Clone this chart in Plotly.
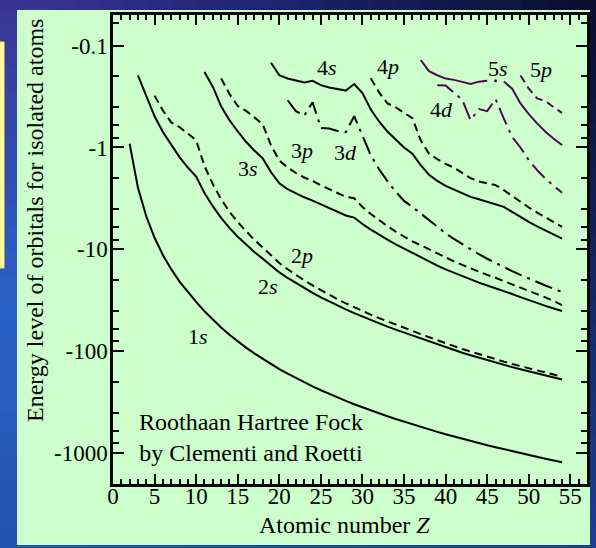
import math
import plotly.graph_objects as go

# ---------------- data (orbital energies, hartree, shown as -E) ----------------
Z_START = {"1s": 2, "2s": 3, "2p": 5, "3s": 11, "3p": 13, "3d": 21,
           "4s": 19, "4p": 31, "4d": 39, "5s": 37, "5p": 49}

e1s = [0.918, 2.478, 4.733, 7.695, 11.33, 15.63, 20.67, 26.38, 32.77, 40.48,
       49.03, 58.50, 68.81, 79.97, 92.00, 104.9, 118.6, 133.5, 149.4, 166.0,
       183.5, 201.8, 221.1, 241.2, 262.2, 284.0, 306.8, 330.4, 354.9, 380.2,
       406.5, 433.6, 461.6, 490.4, 520.2, 551.5, 583.8, 616.9, 651.0, 686.0,
       721.9, 758.7, 796.4, 835.1, 874.7, 915.2, 956.6, 998.9, 1042, 1086,
       1131, 1177, 1224]
e2s = [0.1963, 0.3093, 0.4947, 0.7056, 0.9453, 1.2443, 1.5726, 1.9304, 2.797, 3.768,
       4.911, 6.157, 7.511, 9.004, 10.61, 12.32, 14.49, 16.82, 19.07, 21.47,
       24.01, 26.69, 29.51, 32.47, 35.58, 38.83, 42.22, 45.75, 49.42, 53.23,
       57.19, 61.29, 65.52, 69.90, 75.01, 80.29, 85.75, 91.40, 97.22, 103.2,
       109.4, 115.8, 122.3, 129.0, 135.9, 143.0, 150.3, 157.7, 165.3, 173.1,
       181.1, 189.3]
e2p = [0.3099, 0.4333, 0.5676, 0.6319, 0.7300, 0.8504, 1.518, 2.282, 3.218, 4.256,
       5.401, 6.683, 8.072, 9.571, 11.52, 13.63, 15.66, 17.83, 20.14, 22.59,
       25.18, 27.92, 30.80, 33.81, 36.96, 40.27, 43.70, 47.28, 51.01, 54.86,
       58.86, 63.01, 67.86, 72.89, 78.10, 83.49, 89.06, 94.81, 100.7, 106.8,
       113.1, 119.6, 126.3, 133.1, 140.1, 147.3, 154.6, 162.2, 169.9, 177.8]
e3s = [0.1821, 0.2530, 0.3935, 0.5397, 0.6964, 0.8796, 1.0729, 1.2773, 1.7432, 2.2453,
       2.57, 2.82, 3.08, 3.32, 3.62, 3.96, 4.33, 4.65, 4.87, 5.64,
       6.39, 7.19, 8.03, 8.91, 9.83, 10.85, 12.0, 13.2, 14.4, 15.7,
       17.0, 18.4, 19.8, 21.2, 22.6, 24.0, 25.6, 27.4, 29.4, 31.5,
       33.6, 35.8, 38.0, 40.18]
e3p = [0.2098, 0.2977, 0.3916, 0.4374, 0.5064, 0.5910, 0.9547, 1.3410,
       1.57, 1.78, 1.97, 2.13, 2.35, 2.55, 2.78, 3.05, 3.15, 3.83,
       4.50, 5.20, 5.90, 6.70, 7.50, 8.33, 9.1, 10.0, 11.0, 12.0,
       13.1, 14.2, 15.4, 16.6, 17.8, 19.0, 20.4, 21.9, 23.6, 25.4,
       27.4, 29.6, 32.2, 35.22]
e3d = [0.344, 0.441, 0.487, 0.36, 0.642, 0.651, 0.688, 0.706, 0.493, 0.783,
       1.194, 1.634, 2.140, 2.709, 3.341, 3.826, 4.45, 5.2, 6.05, 6.95,
       7.9, 8.9, 10.0, 11.15, 12.35, 13.6, 14.95, 16.35, 17.8, 19.35,
       20.95, 22.6, 24.3, 26.12]
e4s = [0.1475, 0.1955, 0.2101, 0.2210, 0.2300, 0.2216, 0.2443, 0.2580, 0.2670, 0.2766,
       0.2386, 0.2925, 0.4238, 0.5559, 0.6981, 0.8411, 0.9989, 1.1528, 1.49, 1.85,
       2.13, 2.38, 2.58, 2.80, 3.05, 3.22, 3.40, 3.60, 3.82, 4.29,
       4.84, 5.38, 5.93, 6.50, 7.16, 7.856]
e4p = [0.2095, 0.2883, 0.3690, 0.4032, 0.4571, 0.5146, 0.85, 1.15, 1.30, 1.45,
       1.58, 1.78, 2.00, 2.15, 2.24, 2.34, 2.62, 3.00, 3.42, 3.88,
       4.36, 4.86, 5.40, 6.008]
e4d = [0.245, 0.247, 0.29, 0.34, 0.54, 0.42, 0.44, 0.335, 0.52, 0.79,
       1.00, 1.33, 1.67, 2.02, 2.38, 2.778]
e5s = [0.1385, 0.1782, 0.1955, 0.2107, 0.2170, 0.2270, 0.2380, 0.2260, 0.2220, None,
       0.2250, 0.2650, 0.3700, 0.4700, 0.5800, 0.7000, 0.8200, 0.9440]
e5s_pd = 0.222   # isolated point at Z = 46
e5p = [0.197, 0.265, 0.330, 0.350, 0.403, 0.457]

y_tickvals = [0.1, 1, 10, 100, 1000]
y_ticktext = ["-0.1", "-1", "-10", "-100", "-1000"]
x_tickvals = [0, 5, 10, 15, 20, 25, 30, 35, 40, 45, 50, 55]

# label positions (Z, -E)
labels = [("1", "s", 10.2, 71.6), ("2", "s", 18.6, 23.2), ("2", "p", 22.7, 11.6),
          ("3", "s", 16.2, 1.59), ("3", "p", 22.7, 1.06), ("3", "d", 28.0, 1.13),
          ("4", "s", 25.7, 0.164), ("4", "p", 33.1, 0.159), ("4", "d", 39.5, 0.428),
          ("5", "s", 46.3, 0.166), ("5", "p", 51.5, 0.170)]
note_pos = (16.6, 700)

# ---------------- styles ----------------
FONT = "Liberation Serif"
BLACK = "#000000"
PURPLE = "#520a52"
SOLID, DASH, DASHDOT = "solid", "8px,5px", "18px,6px,3px,6px"

series = [
    ("1s", e1s, BLACK, SOLID), ("2s", e2s, BLACK, SOLID), ("2p", e2p, BLACK, DASH),
    ("3s", e3s, BLACK, SOLID), ("3p", e3p, BLACK, DASH), ("3d", e3d, BLACK, DASHDOT),
    ("4s", e4s, BLACK, SOLID), ("4p", e4p, BLACK, DASH), ("4d", e4d, PURPLE, DASHDOT),
    ("5s", e5s, PURPLE, SOLID), ("5p", e5p, PURPLE, DASH),
]

fig = go.Figure()
for name, vals, col, dash in series:
    z0 = Z_START[name]
    fig.add_trace(go.Scatter(
        x=list(range(z0, z0 + len(vals))), y=vals, mode="lines", name=name,
        connectgaps=False, line=dict(color=col, width=2, dash=dash), showlegend=False))
fig.add_trace(go.Scatter(x=[46], y=[e5s_pd], mode="markers", showlegend=False,
                         marker=dict(color=PURPLE, size=3)))

# ---------------- background decoration ----------------
W, H = 596, 548
L, R, T, B = 113, 9, 15, 64
PW, PH = W - L - R, H - T - B


def rect(x0, y0, x1, y1, color):
    return dict(type="rect", xref="paper", yref="paper", layer="below",
                x0=(x0 - L) / PW, x1=(x1 - L) / PW,
                y0=(H - B - y0) / PH, y1=(H - B - y1) / PH,
                fillcolor=color, line=dict(width=0))


def mix(c1, c2, t):
    a = [int(c1[i:i + 2], 16) for i in (1, 3, 5)]
    b = [int(c2[i:i + 2], 16) for i in (1, 3, 5)]
    return "#%02x%02x%02x" % tuple(round(a[k] + (b[k] - a[k]) * t) for k in range(3))


shapes = []
n = 24
for i in range(n):  # left strip vertical gradient
    y0, y1 = H * i / n, H * (i + 1) / n + 1
    t = (i + 0.5) / n
    c = mix("#3b3494", "#2b62c6", t / 0.55) if t < 0.55 else mix("#2b62c6", "#2452b0", (t - 0.55) / 0.45)
    shapes.append(rect(0, y0, 18, y1, c))
for i in range(n):  # top band horizontal gradient
    x0, x1 = W * i / n, W * (i + 1) / n + 1
    t = (i + 0.5) / n
    c = mix("#3b3494", "#1a226a", t / 0.5) if t < 0.5 else mix("#1a226a", "#0a0e2e", (t - 0.5) / 0.5)
    shapes.append(rect(x0, 0, x1, 11, c))
for i in range(n):  # right strip
    y0, y1 = 10 + (H - 10) * i / n, 10 + (H - 10) * (i + 1) / n + 1
    shapes.append(rect(589, y0, W, y1, mix("#0a0e2e", "#1c3f92", (i + 0.5) / n)))
for i in range(n):  # bottom band
    x0, x1 = 17 + 573 * i / n, 17 + 573 * (i + 1) / n + 1
    shapes.append(rect(x0, 544, x1, H, mix("#2553b2", "#1c3f92", (i + 0.5) / n)))
# small yellow panel at far left
shapes.append(dict(type="rect", xref="paper", yref="paper", layer="below",
                   x0=(0 - L) / PW, x1=(4 - L) / PW, y0=(H - B - 42) / PH, y1=(H - B - 268) / PH,
                   fillcolor="#ffffb0", line=dict(color="#f2ee55", width=1)))
# green panel
shapes.append(rect(17, 10, 590, 545, "#ccffcc"))

annotations = []
for num, orb, zx, ev in labels:
    annotations.append(dict(x=zx, y=math.log10(ev), xref="x", yref="y",
                            xanchor="center", yanchor="middle",
                            text=f"{num}<i>{orb}</i>", showarrow=False,
                            font=dict(family=FONT, size=22, color=BLACK)))
annotations.append(dict(x=note_pos[0], y=math.log10(note_pos[1]), xref="x", yref="y",
                        xanchor="center", yanchor="middle", showarrow=False,
                        text="Roothaan Hartree Fock<br>by Clementi and Roetti",
                        align="center", font=dict(family=FONT, size=24, color=BLACK)))
annotations.append(dict(x=(344 - L) / PW, y=(H - B - 525) / PH, xref="paper", yref="paper",
                        xanchor="center", yanchor="middle",
                        showarrow=False, text="Atomic number <i>Z</i>",
                        font=dict(family=FONT, size=24, color=BLACK)))
annotations.append(dict(x=(35 - L) / PW, y=(H - B - 221) / PH, xref="paper", yref="paper",
                        xanchor="center", yanchor="middle",
                        showarrow=False, textangle=-90,
                        text="Energy level of orbitals for isolated atoms",
                        font=dict(family=FONT, size=24, color=BLACK)))

y_minor = [m * 10 ** k for k in range(-1, 4) for m in (2, 4, 6, 8)] + [0.06]

fig.update_layout(
    width=W, height=H, margin=dict(l=L, r=R, t=T, b=B, pad=0, autoexpand=False),
    paper_bgcolor="#2455b4", plot_bgcolor="#ccffcc",
    shapes=shapes, annotations=annotations, showlegend=False,
    font=dict(family=FONT, color=BLACK),
    xaxis=dict(range=[0, 57], tickmode="array", tickvals=x_tickvals, automargin=False,
               ticks="inside", ticklen=10, tickwidth=2, tickcolor=BLACK,
               showline=True, linewidth=2.5, linecolor=BLACK, mirror="ticks",
               showgrid=False, zeroline=False, ticklabelstandoff=-10,
               tickfont=dict(family=FONT, size=23, color=BLACK),
               minor=dict(dtick=1, tick0=0, ticks="inside", ticklen=5, tickwidth=1.5,
                          tickcolor=BLACK, showgrid=False)),
    yaxis=dict(type="log", range=[3.302, -1.300], tickmode="array", automargin=False,
               tickvals=y_tickvals, ticktext=y_ticktext,
               ticks="inside", ticklen=11, tickwidth=2, tickcolor=BLACK,
               showline=True, linewidth=2.5, linecolor=BLACK, mirror="ticks",
               showgrid=False, zeroline=False, ticklabelstandoff=-2,
               tickfont=dict(family=FONT, size=23, color=BLACK),
               minor=dict(tickmode="array", tickvals=y_minor, ticks="inside", ticklen=6,
                          tickwidth=1.5, tickcolor=BLACK, showgrid=False)),
)

fig.write_html("out.html", config={"displayModeBar": False},
               post_script="document.body.style.margin='0px';")
